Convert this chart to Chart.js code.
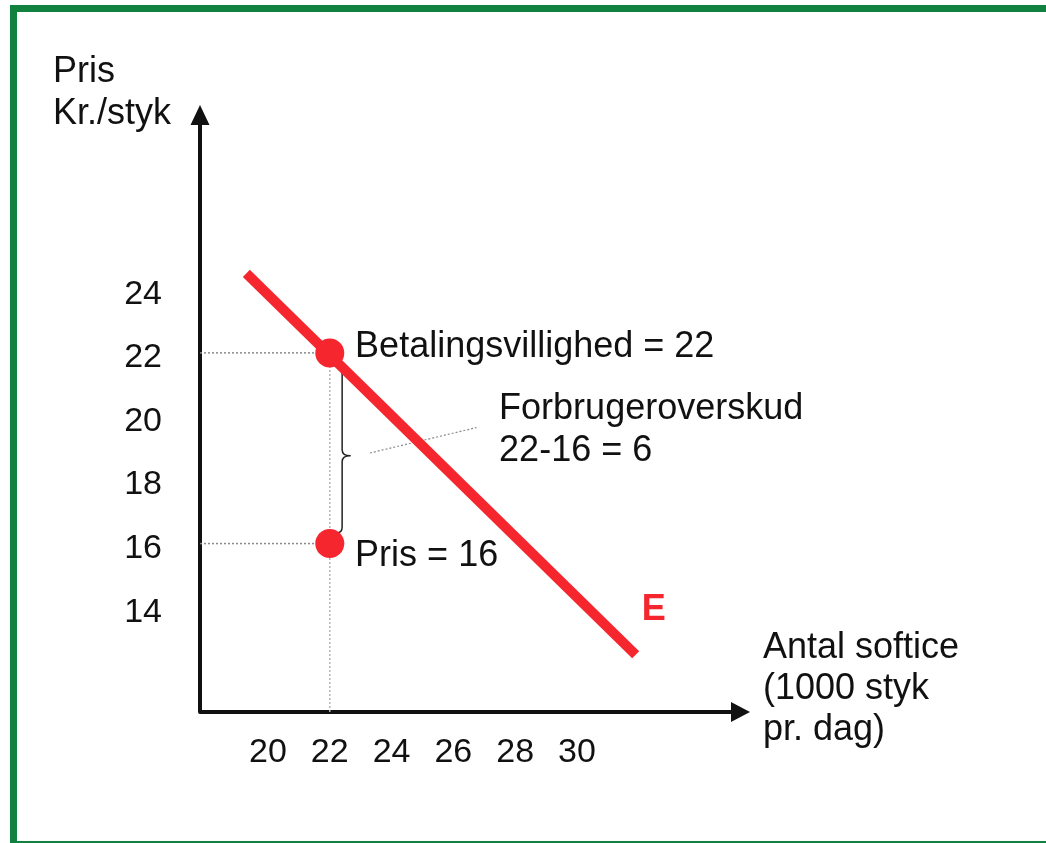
<!DOCTYPE html>
<html><head><meta charset="utf-8">
<script src="https://cdn.jsdelivr.net/npm/chart.js@4.4.1/dist/chart.umd.min.js"></script>
<style>html,body{margin:0;padding:0;background:#fff;overflow:hidden}#wrap{width:1046px;height:843px;position:relative}</style>
</head><body><div id="wrap"><canvas id="c"></canvas></div>
<script>
// ---- data ----
const xTickValues = [20, 22, 24, 26, 28, 30];
const yTickValues = [14, 16, 18, 20, 22, 24];
const xRange = [17.8, 35.6];
const yRange = [10.7, 29.8];
const demandX = [19.3, 31.9];
const demandY = [24.5, 12.5];
const pointX = [22, 22];
const pointY = [22, 16];   // betalingsvillighed, pris
const leaderX = [23.3, 26.75];
const leaderY = [18.85, 19.65];
const braceSpan = [21.56, 18.76, 16.34]; // top, tip, bottom (price units)
const braceAt = 22.4;
const yTitle = ['Pris', 'Kr./styk'];
const xTitle = ['Antal softice', '(1000 styk', 'pr. dag)'];
const notes = [
  {text: 'Betalingsvillighed = 22', x: 22.82, y: 21.87},
  {text: 'Forbrugeroverskud', x: 27.48, y: 19.92},
  {text: '22-16 = 6', x: 27.48, y: 18.6},
  {text: 'Pris = 16', x: 22.82, y: 15.3}
];
const curveLabel = {text: 'E', x: 32.1, y: 13.6};

const FONT = "'Liberation Sans', Arial, sans-serif";
const RED = '#f5262e';

const xy = (xs, ys) => xs.map((v, i) => ({x: v, y: ys[i]}));

const decor = {
  id: 'decor',
  beforeDraw(chart) {
    const c = chart.ctx;
    c.save();
    c.fillStyle = '#fff';
    c.fillRect(0, 0, chart.width, chart.height);
    c.fillStyle = '#10813f';
    c.fillRect(10, 5, chart.width - 10, 7);
    c.fillRect(10, 5, 7, chart.height - 5);
    c.fillRect(10, chart.height - 2, chart.width - 10, 2);
    c.restore();
  },
  beforeDatasetsDraw(chart) {
    const c = chart.ctx, a = chart.chartArea;
    const xs = chart.scales.x, ys = chart.scales.y;
    c.save();
    // axes
    c.strokeStyle = '#111'; c.fillStyle = '#111'; c.lineWidth = 4; c.lineJoin = 'round';
    c.beginPath();
    c.moveTo(a.left, a.top + 18);
    c.lineTo(a.left, a.bottom);
    c.lineTo(a.right - 16, a.bottom);
    c.stroke();
    c.beginPath();
    c.moveTo(a.left, a.top); c.lineTo(a.left - 9.5, a.top + 20); c.lineTo(a.left + 9.5, a.top + 20); c.closePath(); c.fill();
    c.beginPath();
    c.moveTo(a.right, a.bottom); c.lineTo(a.right - 19, a.bottom - 10); c.lineTo(a.right - 19, a.bottom + 10); c.closePath(); c.fill();
    // brace
    const bx = xs.getPixelForValue(braceAt);
    const t = ys.getPixelForValue(braceSpan[0]);
    const m = ys.getPixelForValue(braceSpan[1]);
    const b = ys.getPixelForValue(braceSpan[2]);
    c.strokeStyle = '#222'; c.lineWidth = 1.5;
    c.beginPath();
    c.moveTo(bx - 5, t);
    c.quadraticCurveTo(bx, t, bx, t + 6);
    c.lineTo(bx, m - 6);
    c.quadraticCurveTo(bx, m, bx + 8, m);
    c.quadraticCurveTo(bx, m, bx, m + 6);
    c.lineTo(bx, b - 6);
    c.quadraticCurveTo(bx, b, bx - 5, b);
    c.stroke();
    c.restore();
  },
  afterDatasetsDraw(chart) {
    const c = chart.ctx, a = chart.chartArea;
    const xs = chart.scales.x, ys = chart.scales.y;
    c.save();
    c.fillStyle = '#111';
    c.textBaseline = 'alphabetic';
    c.textAlign = 'left';
    c.font = '36px ' + FONT;
    notes.forEach(n => c.fillText(n.text, xs.getPixelForValue(n.x), ys.getPixelForValue(n.y)));
    c.fillText(yTitle[0], a.left - 147, a.top - 23);
    c.fillText(yTitle[1], a.left - 147, a.top + 19);
    xTitle.forEach((s, i) => c.fillText(s, a.right + 13, a.bottom - 54 + i * 41));
    c.fillStyle = RED;
    c.font = 'bold 36px ' + FONT;
    c.fillText(curveLabel.text, xs.getPixelForValue(curveLabel.x), ys.getPixelForValue(curveLabel.y));
    c.restore();
  }
};

new Chart(document.getElementById('c'), {
  type: 'scatter',
  data: {
    datasets: [
      {data: xy([xRange[0], pointX[0]], [pointY[0], pointY[0]]), showLine: true, borderColor: '#8a8a8a', borderWidth: 1.5, borderDash: [2, 2], pointRadius: 0, order: 5},
      {data: xy([xRange[0], pointX[1]], [pointY[1], pointY[1]]), showLine: true, borderColor: '#8a8a8a', borderWidth: 1.5, borderDash: [2, 2], pointRadius: 0, order: 5},
      {data: xy([pointX[0], pointX[0]], [yRange[0], pointY[0]]), showLine: true, borderColor: '#b5b5b5', borderWidth: 1.5, borderDash: [2, 2], pointRadius: 0, order: 5},
      {data: xy(leaderX, leaderY), showLine: true, borderColor: '#8a8a8a', borderWidth: 1.2, borderDash: [2, 2], pointRadius: 0, order: 4},
      {data: xy(demandX, demandY), showLine: true, borderColor: RED, borderWidth: 10, pointRadius: 0, borderCapStyle: 'butt', order: 2},
      {data: xy(pointX, pointY), showLine: false, backgroundColor: RED, borderColor: RED, pointRadius: 14.5, borderWidth: 0, order: 1}
    ]
  },
  options: {
    responsive: true,
    maintainAspectRatio: false,
    animation: false,
    events: [],
    layout: {padding: {left: 0, right: 296, top: 105, bottom: 71}},
    plugins: {legend: {display: false}, tooltip: {enabled: false}},
    scales: {
      x: {
        type: 'linear', min: xRange[0], max: xRange[1],
        grid: {display: false, drawTicks: false}, border: {display: false},
        afterBuildTicks: s => { s.ticks = xTickValues.map(v => ({value: v})); },
        afterFit: s => { s.height = 60; },
        ticks: {color: '#111', font: {family: FONT, size: 34}, padding: 20, maxRotation: 0, autoSkip: false}
      },
      y: {
        type: 'linear', min: yRange[0], max: yRange[1],
        grid: {display: false, drawTicks: false}, border: {display: false},
        afterBuildTicks: s => { s.ticks = yTickValues.map(v => ({value: v})); },
        afterFit: s => { s.width = 200; },
        ticks: {color: '#111', font: {family: FONT, size: 34}, padding: 38, labelOffset: 5, autoSkip: false}
      }
    }
  },
  plugins: [decor]
});
</script></body></html>
